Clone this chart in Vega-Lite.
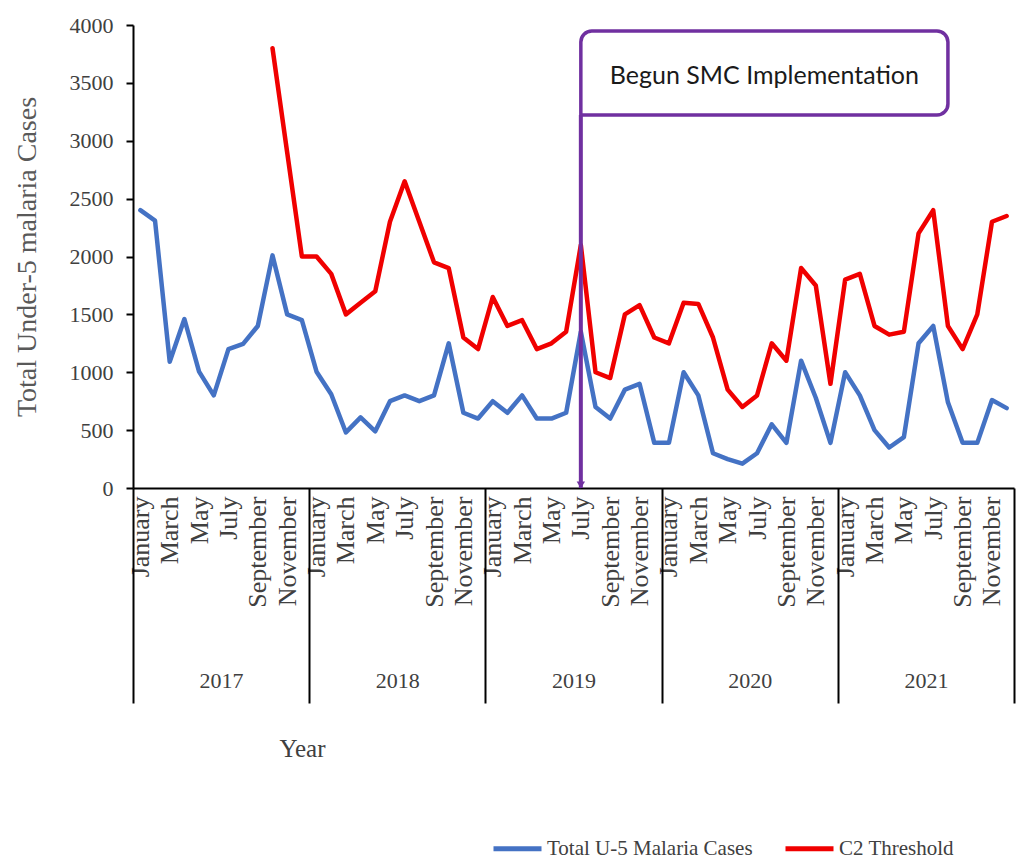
{
  "$schema": "https://vega.github.io/schema/vega-lite/v6.json",
  "autosize": {"type": "none"},
  "width": 881,
  "height": 463,
  "padding": {"left": 133, "top": 25, "right": 4, "bottom": 377},
  "background": "white",
  "config": {"view": {"stroke": null}},
  "encoding": {
    "y": {
      "field": "value",
      "type": "quantitative",
      "scale": {"domain": [0, 4000], "nice": false, "zero": true},
      "axis": {
        "title": "Total Under-5 malaria Cases",
        "titleFont": "Liberation Serif",
        "titleFontSize": 28,
        "titleFontWeight": "normal",
        "titleColor": "#595959",
        "titlePadding": 28,
        "values": [0, 500, 1000, 1500, 2000, 2500, 3000, 3500, 4000],
        "format": "d",
        "labelFont": "Liberation Serif",
        "labelFontSize": 22,
        "labelColor": "#404040",
        "labelPadding": 13,
        "tickSize": 7,
        "tickColor": "black",
        "tickWidth": 2,
        "domainColor": "black",
        "domainWidth": 2,
        "grid": false
      }
    }
  },
  "layer": [
    {
      "data": {
        "values": [
          {"t": 0, "cases": 2400, "threshold": null},
          {"t": 1, "cases": 2310, "threshold": null},
          {"t": 2, "cases": 1090, "threshold": null},
          {"t": 3, "cases": 1460, "threshold": null},
          {"t": 4, "cases": 1005, "threshold": null},
          {"t": 5, "cases": 800, "threshold": null},
          {"t": 6, "cases": 1200, "threshold": null},
          {"t": 7, "cases": 1245, "threshold": null},
          {"t": 8, "cases": 1400, "threshold": null},
          {"t": 9, "cases": 2010, "threshold": 3800},
          {"t": 10, "cases": 1500, "threshold": 2900},
          {"t": 11, "cases": 1450, "threshold": 2000},
          {"t": 12, "cases": 1005, "threshold": 2000},
          {"t": 13, "cases": 810, "threshold": 1850},
          {"t": 14, "cases": 480, "threshold": 1500},
          {"t": 15, "cases": 610, "threshold": 1600},
          {"t": 16, "cases": 490, "threshold": 1700},
          {"t": 17, "cases": 750, "threshold": 2300},
          {"t": 18, "cases": 800, "threshold": 2650},
          {"t": 19, "cases": 750, "threshold": 2300},
          {"t": 20, "cases": 800, "threshold": 1950},
          {"t": 21, "cases": 1250, "threshold": 1900},
          {"t": 22, "cases": 650, "threshold": 1300},
          {"t": 23, "cases": 600, "threshold": 1200},
          {"t": 24, "cases": 750, "threshold": 1650},
          {"t": 25, "cases": 650, "threshold": 1400},
          {"t": 26, "cases": 800, "threshold": 1450},
          {"t": 27, "cases": 600, "threshold": 1200},
          {"t": 28, "cases": 600, "threshold": 1250},
          {"t": 29, "cases": 650, "threshold": 1350},
          {"t": 30, "cases": 1350, "threshold": 2100},
          {"t": 31, "cases": 700, "threshold": 1000},
          {"t": 32, "cases": 600, "threshold": 950},
          {"t": 33, "cases": 850, "threshold": 1500},
          {"t": 34, "cases": 900, "threshold": 1580},
          {"t": 35, "cases": 390, "threshold": 1300},
          {"t": 36, "cases": 390, "threshold": 1250},
          {"t": 37, "cases": 1000, "threshold": 1600},
          {"t": 38, "cases": 800, "threshold": 1590},
          {"t": 39, "cases": 300, "threshold": 1300},
          {"t": 40, "cases": 250, "threshold": 850},
          {"t": 41, "cases": 210, "threshold": 700},
          {"t": 42, "cases": 300, "threshold": 800},
          {"t": 43, "cases": 550, "threshold": 1250},
          {"t": 44, "cases": 390, "threshold": 1100},
          {"t": 45, "cases": 1100, "threshold": 1900},
          {"t": 46, "cases": 780, "threshold": 1750},
          {"t": 47, "cases": 390, "threshold": 900},
          {"t": 48, "cases": 1000, "threshold": 1800},
          {"t": 49, "cases": 800, "threshold": 1850},
          {"t": 50, "cases": 500, "threshold": 1400},
          {"t": 51, "cases": 350, "threshold": 1325},
          {"t": 52, "cases": 440, "threshold": 1350},
          {"t": 53, "cases": 1250, "threshold": 2200},
          {"t": 54, "cases": 1400, "threshold": 2400},
          {"t": 55, "cases": 740, "threshold": 1400},
          {"t": 56, "cases": 390, "threshold": 1200},
          {"t": 57, "cases": 390, "threshold": 1500},
          {"t": 58, "cases": 760, "threshold": 2300},
          {"t": 59, "cases": 690, "threshold": 2350}
        ]
      },
      "transform": [{"fold": ["cases", "threshold"], "as": ["series", "value"]}],
      "mark": {"type": "line", "strokeWidth": 4.5, "strokeJoin": "round", "strokeCap": "round"},
      "encoding": {
        "x": {
          "field": "t",
          "type": "quantitative",
          "scale": {"domain": [-0.5, 59.5], "nice": false, "zero": false},
          "axis": {
            "orient": "bottom",
            "title": null,
            "values": [0, 2, 4, 6, 8, 10, 12, 14, 16, 18, 20, 22, 24, 26, 28, 30, 32, 34, 36, 38, 40, 42, 44, 46, 48, 50, 52, 54, 56, 58],
            "labelExpr": "['January','March','May','July','September','November'][(datum.value % 12) / 2]",
            "labelAngle": 270,
            "labelAlign": "right",
            "labelBaseline": "middle",
            "labelFont": "Liberation Serif",
            "labelFontSize": 26,
            "labelColor": "#404040",
            "labelPadding": 8,
            "labelOverlap": false,
            "labelFlush": false,
            "ticks": false,
            "grid": false,
            "domainColor": "black",
            "domainWidth": 2
          }
        },
        "color": {
          "field": "series",
          "type": "nominal",
          "scale": {"domain": ["cases", "threshold"], "range": ["#4472C4", "#F00000"]},
          "legend": {
            "title": null,
            "orient": "none",
            "legendX": 358,
            "legendY": 797,
            "direction": "horizontal",
            "labelExpr": "datum.value == 'cases' ? 'Total U-5 Malaria Cases' : 'C2 Threshold'",
            "labelFont": "Liberation Serif",
            "labelFontSize": 21,
            "labelColor": "#404040",
            "labelOffset": 3,
            "symbolType": "stroke",
            "symbolSize": 2304,
            "symbolStrokeWidth": 5,
            "columnPadding": 22,
            "labelLimit": 400
          }
        }
      }
    },
    {
      "data": {"values": [{"t": 30, "value": 0, "value2": 3222}]},
      "mark": {"type": "rule", "color": "#7030A0", "strokeWidth": 4},
      "encoding": {
        "x": {
          "field": "t",
          "type": "quantitative",
          "axis": {
            "orient": "bottom",
            "values": [-0.5, 11.5, 23.5, 35.5, 47.5, 59.5],
            "labels": false,
            "domain": false,
            "grid": false,
            "ticks": true,
            "tickSize": 215,
            "tickColor": "black",
            "tickWidth": 2,
            "title": "Year",
            "titleFont": "Liberation Serif",
            "titleFontSize": 25,
            "titleFontWeight": "normal",
            "titleColor": "#404040",
            "titleX": 169,
            "titleY": 260,
            "titleAlign": "center",
            "titleBaseline": "middle",
            "titleAnchor": null
          }
        },
        "y2": {"field": "value2"}
      }
    },
    {
      "data": {"values": [{"t": 30, "value": 0}]},
      "mark": {"type": "point", "shape": "triangle-down", "filled": true, "color": "#7030A0", "size": 70, "opacity": 1, "yOffset": -3},
      "encoding": {
        "x": {"field": "t", "type": "quantitative", "axis": null}
      }
    },
    {
      "data": {"values": [{"t": 30, "t2": 55, "value": 3222, "value2": 3948}]},
      "mark": {"type": "rect", "fill": "white", "stroke": "#7030A0", "strokeWidth": 3.5, "cornerRadius": 11, "cornerRadiusBottomLeft": 0},
      "encoding": {
        "x": {
          "field": "t",
          "type": "quantitative",
          "axis": {
            "orient": "bottom",
            "values": [5.5, 17.5, 29.5, 41.5, 53.5],
            "labelExpr": "'' + (2017 + floor(datum.value / 12))",
            "labelFont": "Liberation Serif",
            "labelFontSize": 22,
            "labelColor": "#404040",
            "labelBaseline": "top",
            "labelAngle": 0,
            "labelAlign": "center",
            "labelPadding": 182,
            "labelFlush": false,
            "labelOverlap": false,
            "ticks": false,
            "domain": false,
            "grid": false,
            "title": null
          }
        },
        "x2": {"field": "t2"},
        "y2": {"field": "value2"}
      }
    },
    {
      "data": {"values": [{"t": 42.5, "value": 3560, "label": "Begun SMC Implementation"}]},
      "mark": {"type": "text", "font": "Lato", "fontSize": 25, "color": "#1a1a1a", "align": "center", "baseline": "middle"},
      "encoding": {
        "x": {"field": "t", "type": "quantitative", "axis": null},
        "text": {"field": "label"}
      }
    }
  ],
  "resolve": {"axis": {"x": "independent"}}
}
